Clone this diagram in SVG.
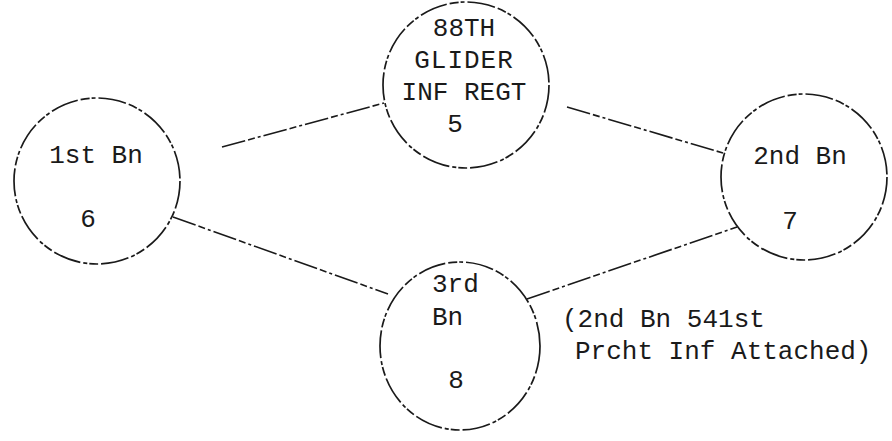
<svg xmlns="http://www.w3.org/2000/svg" width="892" height="441" viewBox="0 0 892 441">
<style>
.n{fill:none;stroke:#1a1a1a;stroke-width:1.7;stroke-dasharray:28 3 9 2 4 3}
.c{fill:none;stroke:#1a1a1a;stroke-width:1.6;stroke-dasharray:24 3 7 3 3 3}
text{font-family:"Liberation Mono","DejaVu Sans Mono",monospace;font-size:26px;fill:#1a1a1a}
.m{text-anchor:middle}
</style>
<rect width="892" height="441" fill="#ffffff"/>
<g id="connectors">
<line class="c" x1="222" y1="147" x2="384" y2="103"/>
<line class="c" x1="173" y1="217" x2="388" y2="294"/>
<line class="c" x1="567" y1="107" x2="723" y2="153"/>
<line class="c" x1="527" y1="299" x2="737" y2="227"/>
</g>
<g id="regt">
<circle class="n" cx="466" cy="85" r="83"/>
<text class="m" x="464" y="36">88TH</text>
<text class="m" x="464" y="68" letter-spacing="1">GLIDER</text>
<text class="m" x="464" y="100">INF REGT</text>
<text class="m" x="455" y="132">5</text>
</g>
<g id="bn1">
<circle class="n" cx="97" cy="181" r="83"/>
<text class="m" x="96" y="163">1st Bn</text>
<text class="m" x="88" y="227">6</text>
</g>
<g id="bn2">
<circle class="n" cx="804" cy="177" r="83"/>
<text class="m" x="800" y="164">2nd Bn</text>
<text class="m" x="790" y="229">7</text>
</g>
<g id="bn3">
<ellipse class="n" cx="460" cy="346" rx="80" ry="84"/>
<text x="432" y="292">3rd</text>
<text x="432" y="325">Bn</text>
<text class="m" x="456" y="388">8</text>
</g>
<g id="note">
<text x="562" y="327">(2nd Bn 541st</text>
<text x="575" y="359">Prcht Inf Attached)</text>
</g>
</svg>
